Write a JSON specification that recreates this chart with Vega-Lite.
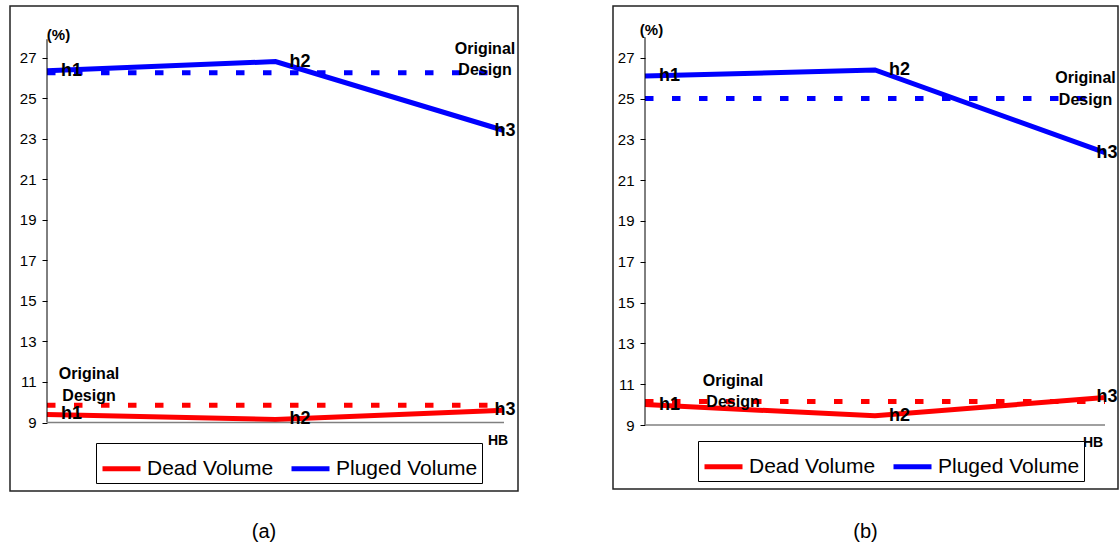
{
  "$schema": "https://vega.github.io/schema/vega-lite/v6.json",
  "padding": {"left": 9, "top": 5, "right": 0, "bottom": 0},
  "bounds": "flush",
  "spacing": 95,
  "config": {
    "view": {"stroke": "#222", "strokeWidth": 1.5},
    "font": "Liberation Sans",
    "text": {"font": "Liberation Sans", "color": "#000"}
  },
  "datasets": {
    "lines": [
      {"panel": "a", "series": "Dead Volume", "kind": "measured", "hb": "h1", "value": 9.4},
      {"panel": "a", "series": "Dead Volume", "kind": "measured", "hb": "h2", "value": 9.15},
      {"panel": "a", "series": "Dead Volume", "kind": "measured", "hb": "h3", "value": 9.6},
      {"panel": "a", "series": "Pluged Volume", "kind": "measured", "hb": "h1", "value": 26.35},
      {"panel": "a", "series": "Pluged Volume", "kind": "measured", "hb": "h2", "value": 26.8},
      {"panel": "a", "series": "Pluged Volume", "kind": "measured", "hb": "h3", "value": 23.4},
      {"panel": "a", "series": "Dead Volume", "kind": "original", "hb": "h1", "value": 9.85},
      {"panel": "a", "series": "Dead Volume", "kind": "original", "hb": "h2", "value": 9.85},
      {"panel": "a", "series": "Dead Volume", "kind": "original", "hb": "h3", "value": 9.85},
      {"panel": "a", "series": "Pluged Volume", "kind": "original", "hb": "h1", "value": 26.25},
      {"panel": "a", "series": "Pluged Volume", "kind": "original", "hb": "h2", "value": 26.25},
      {"panel": "a", "series": "Pluged Volume", "kind": "original", "hb": "h3", "value": 26.25},
      {"panel": "b", "series": "Dead Volume", "kind": "measured", "hb": "h1", "value": 10.0},
      {"panel": "b", "series": "Dead Volume", "kind": "measured", "hb": "h2", "value": 9.45},
      {"panel": "b", "series": "Dead Volume", "kind": "measured", "hb": "h3", "value": 10.35},
      {"panel": "b", "series": "Pluged Volume", "kind": "measured", "hb": "h1", "value": 26.1},
      {"panel": "b", "series": "Pluged Volume", "kind": "measured", "hb": "h2", "value": 26.4},
      {"panel": "b", "series": "Pluged Volume", "kind": "measured", "hb": "h3", "value": 22.35},
      {"panel": "b", "series": "Dead Volume", "kind": "original", "hb": "h1", "value": 10.15},
      {"panel": "b", "series": "Dead Volume", "kind": "original", "hb": "h2", "value": 10.15},
      {"panel": "b", "series": "Dead Volume", "kind": "original", "hb": "h3", "value": 10.15},
      {"panel": "b", "series": "Pluged Volume", "kind": "original", "hb": "h1", "value": 25.0},
      {"panel": "b", "series": "Pluged Volume", "kind": "original", "hb": "h2", "value": 25.0},
      {"panel": "b", "series": "Pluged Volume", "kind": "original", "hb": "h3", "value": 25.0}
    ]
  },
  "hconcat": [
    {
      "width": 508,
      "height": 485,
      "title": {"text": "(a)", "orient": "bottom", "anchor": "middle", "fontSize": 20, "fontWeight": "normal", "font": "Liberation Sans", "color": "#000", "offset": 31},
      "resolve": {"scale": {"color": "independent"}},
      "layer": [
        {
          "data": {"name": "lines"},
          "transform": [{"filter": "datum.panel === 'a' && datum.kind === 'measured'"}],
          "mark": {"type": "line", "strokeWidth": 5},
          "encoding": {
            "x": {"field": "hb", "type": "nominal", "scale": {"type": "point", "domain": ["h1", "h2", "h3"], "range": [37, 494], "padding": 0}, "axis": null},
            "y": {"field": "value", "type": "quantitative", "scale": {"domain": [5.622, 29.54], "nice": false, "zero": false},
                  "axis": {"title": null, "offset": -37, "domain": false, "grid": false, "values": [9, 11, 13, 15, 17, 19, 21, 23, 25, 27], "tickSize": 5, "tickColor": "#000", "labelPadding": 6, "labelFont": "Liberation Sans", "labelFontSize": 15, "labelColor": "#000"}},
            "color": {"field": "series", "type": "nominal", "scale": {"domain": ["Dead Volume", "Pluged Volume"], "range": ["#ff0000", "#0000ff"]},
                      "legend": {"title": null, "orient": "none", "legendX": 86, "legendY": 437, "direction": "horizontal", "symbolType": "stroke", "symbolSize": 1444, "symbolStrokeWidth": 5, "labelFont": "Liberation Sans", "labelFontSize": 21, "labelColor": "#000", "strokeColor": "#000", "fillColor": "#fff", "padding": 4, "columnPadding": 7, "labelOffset": 4}}
          }
        },
        {
          "data": {"name": "lines"},
          "transform": [{"filter": "datum.panel === 'a' && datum.kind === 'original'"}],
          "mark": {"type": "line", "strokeWidth": 5, "strokeDash": [8.5, 18.5]},
          "encoding": {
            "x": {"field": "hb", "type": "nominal"},
            "y": {"field": "value", "type": "quantitative"},
            "color": {"field": "series", "type": "nominal", "scale": {"domain": ["Dead Volume", "Pluged Volume"], "range": ["#ff0000", "#0000ff"]}, "legend": null}
          }
        },
        {
          "data": {"values": [{}]},
          "mark": {"type": "rule", "color": "#000", "strokeWidth": 1},
          "encoding": {"x": {"datum": "h1"}, "y": {"datum": 9}, "y2": {"datum": 27.9}}
        },
        {
          "data": {"values": [{}]},
          "mark": {"type": "rule", "color": "#808080", "strokeWidth": 1.5},
          "encoding": {"x": {"datum": "h1"}, "x2": {"datum": "h3"}, "y": {"datum": 9}}
        },
        {
          "data": {"name": "lines"},
          "transform": [{"filter": "datum.panel === 'a' && datum.kind === 'measured' && datum.hb !== 'h3'"}],
          "mark": {"type": "text", "align": "left", "baseline": "middle", "dx": 14, "fontSize": 18, "fontWeight": "bold"},
          "encoding": {"x": {"field": "hb", "type": "nominal"}, "y": {"field": "value", "type": "quantitative"}, "text": {"field": "hb"}}
        },
        {
          "data": {"name": "lines"},
          "transform": [{"filter": "datum.panel === 'a' && datum.kind === 'measured' && datum.hb === 'h3'"}],
          "mark": {"type": "text", "align": "center", "baseline": "middle", "dx": 1, "fontSize": 18, "fontWeight": "bold"},
          "encoding": {"x": {"field": "hb", "type": "nominal"}, "y": {"field": "value", "type": "quantitative"}, "text": {"field": "hb"}}
        },
        {
          "data": {"values": [{}]},
          "mark": {"type": "text", "align": "center", "baseline": "alphabetic", "lineBreak": "\n", "lineHeight": 21.5, "dx": -19, "dy": -19, "fontSize": 16, "fontWeight": "bold"},
          "encoding": {"x": {"datum": "h3"}, "y": {"datum": 26.25}, "text": {"value": "Original\nDesign"}}
        },
        {
          "data": {"values": [{}]},
          "mark": {"type": "text", "align": "center", "baseline": "alphabetic", "lineBreak": "\n", "lineHeight": 21.5, "dx": 42, "dy": -26, "fontSize": 16, "fontWeight": "bold"},
          "encoding": {"x": {"datum": "h1"}, "y": {"datum": 9.85}, "text": {"value": "Original\nDesign"}}
        },
        {
          "data": {"values": [{}]},
          "mark": {"type": "text", "align": "center", "baseline": "middle", "dx": -6, "dy": 18.5, "fontSize": 14, "fontWeight": "bold"},
          "encoding": {"x": {"datum": "h3"}, "y": {"datum": 9}, "text": {"value": "HB"}}
        },
        {
          "data": {"values": [{}]},
          "mark": {"type": "text", "align": "center", "baseline": "middle", "dx": 11.5, "dy": -4, "fontSize": 15, "fontWeight": "bold"},
          "encoding": {"x": {"datum": "h1"}, "y": {"datum": 27.9}, "text": {"value": "(%)"}}
        }
      ]
    },
    {
      "width": 505,
      "height": 483,
      "title": {"text": "(b)", "orient": "bottom", "anchor": "middle", "fontSize": 20, "fontWeight": "normal", "font": "Liberation Sans", "color": "#000", "offset": 33},
      "resolve": {"scale": {"color": "independent"}},
      "layer": [
        {
          "data": {"name": "lines"},
          "transform": [{"filter": "datum.panel === 'b' && datum.kind === 'measured'"}],
          "mark": {"type": "line", "strokeWidth": 5},
          "encoding": {
            "x": {"field": "hb", "type": "nominal", "scale": {"type": "point", "domain": ["h1", "h2", "h3"], "range": [32, 492], "padding": 0}, "axis": null},
            "y": {"field": "value", "type": "quantitative", "scale": {"domain": [5.864, 29.534], "nice": false, "zero": false},
                  "axis": {"title": null, "offset": -32, "domain": false, "grid": false, "values": [9, 11, 13, 15, 17, 19, 21, 23, 25, 27], "tickSize": 5, "tickColor": "#000", "labelPadding": 6, "labelFont": "Liberation Sans", "labelFontSize": 15, "labelColor": "#000"}},
            "color": {"field": "series", "type": "nominal", "scale": {"domain": ["Dead Volume", "Pluged Volume"], "range": ["#ff0000", "#0000ff"]},
                      "legend": {"title": null, "orient": "none", "legendX": 85, "legendY": 435, "direction": "horizontal", "symbolType": "stroke", "symbolSize": 1444, "symbolStrokeWidth": 5, "labelFont": "Liberation Sans", "labelFontSize": 21, "labelColor": "#000", "strokeColor": "#000", "fillColor": "#fff", "padding": 4, "columnPadding": 7, "labelOffset": 4}}
          }
        },
        {
          "data": {"name": "lines"},
          "transform": [{"filter": "datum.panel === 'b' && datum.kind === 'original'"}],
          "mark": {"type": "line", "strokeWidth": 5, "strokeDash": [8.5, 18.5]},
          "encoding": {
            "x": {"field": "hb", "type": "nominal"},
            "y": {"field": "value", "type": "quantitative"},
            "color": {"field": "series", "type": "nominal", "scale": {"domain": ["Dead Volume", "Pluged Volume"], "range": ["#ff0000", "#0000ff"]}, "legend": null}
          }
        },
        {
          "data": {"values": [{}]},
          "mark": {"type": "rule", "color": "#000", "strokeWidth": 1},
          "encoding": {"x": {"datum": "h1"}, "y": {"datum": 9}, "y2": {"datum": 28.0}}
        },
        {
          "data": {"values": [{}]},
          "mark": {"type": "rule", "color": "#808080", "strokeWidth": 1.5},
          "encoding": {"x": {"datum": "h1"}, "x2": {"datum": "h3"}, "y": {"datum": 9}}
        },
        {
          "data": {"name": "lines"},
          "transform": [{"filter": "datum.panel === 'b' && datum.kind === 'measured' && datum.hb !== 'h3'"}],
          "mark": {"type": "text", "align": "left", "baseline": "middle", "dx": 14, "fontSize": 18, "fontWeight": "bold"},
          "encoding": {"x": {"field": "hb", "type": "nominal"}, "y": {"field": "value", "type": "quantitative"}, "text": {"field": "hb"}}
        },
        {
          "data": {"name": "lines"},
          "transform": [{"filter": "datum.panel === 'b' && datum.kind === 'measured' && datum.hb === 'h3'"}],
          "mark": {"type": "text", "align": "center", "baseline": "middle", "dx": 2, "fontSize": 18, "fontWeight": "bold"},
          "encoding": {"x": {"field": "hb", "type": "nominal"}, "y": {"field": "value", "type": "quantitative"}, "text": {"field": "hb"}}
        },
        {
          "data": {"values": [{}]},
          "mark": {"type": "text", "align": "center", "baseline": "alphabetic", "lineBreak": "\n", "lineHeight": 21.5, "dx": -19.5, "dy": -15.5, "fontSize": 16, "fontWeight": "bold"},
          "encoding": {"x": {"datum": "h3"}, "y": {"datum": 25.0}, "text": {"value": "Original\nDesign"}}
        },
        {
          "data": {"values": [{}]},
          "mark": {"type": "text", "align": "center", "baseline": "alphabetic", "lineBreak": "\n", "lineHeight": 21.5, "dx": 88, "dy": -15.6, "fontSize": 16, "fontWeight": "bold"},
          "encoding": {"x": {"datum": "h1"}, "y": {"datum": 10.15}, "text": {"value": "Original\nDesign"}}
        },
        {
          "data": {"values": [{}]},
          "mark": {"type": "text", "align": "center", "baseline": "middle", "dx": -12, "dy": 18, "fontSize": 14, "fontWeight": "bold"},
          "encoding": {"x": {"datum": "h3"}, "y": {"datum": 9}, "text": {"value": "HB"}}
        },
        {
          "data": {"values": [{}]},
          "mark": {"type": "text", "align": "center", "baseline": "middle", "dx": 6.5, "dy": -7, "fontSize": 15, "fontWeight": "bold"},
          "encoding": {"x": {"datum": "h1"}, "y": {"datum": 28.0}, "text": {"value": "(%)"}}
        }
      ]
    }
  ]
}
